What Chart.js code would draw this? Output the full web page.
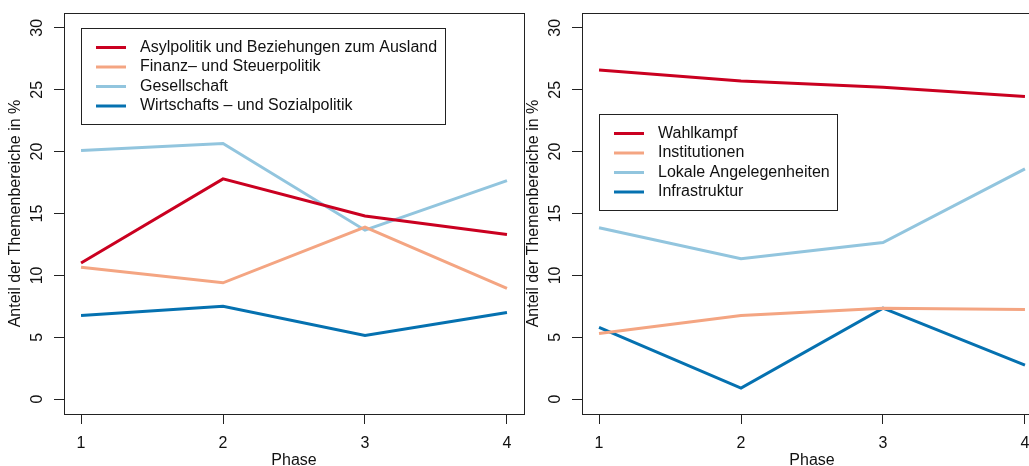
<!DOCTYPE html>
<html>
<head>
<meta charset="utf-8">
<script src="https://cdn.jsdelivr.net/npm/chart.js@4.4.0/dist/chart.umd.min.js"></script>
<style>
  html, body { margin: 0; padding: 0; background: #fff; overflow: hidden; width: 1029px; height: 466px; }
  .panel { position: absolute; top: 0; width: 530px; height: 470px; }
</style>
</head>
<body>
<div class="panel" style="left:0"><canvas id="left" width="530" height="470"></canvas></div>
<div class="panel" style="left:518px"><canvas id="right" width="530" height="470"></canvas></div>
<script>
// Daten
const phases = [1, 2, 3, 4];
const yTicks = [0, 5, 10, 15, 20, 25, 30];

const leftLabels = [
  'Asylpolitik und Beziehungen zum Ausland',
  'Finanz\u2013 und Steuerpolitik',
  'Gesellschaft',
  'Wirtschafts \u2013 und Sozialpolitik'
];
const asyl = [11.0, 17.8, 14.8, 13.3];
const finanz = [10.65, 9.4, 13.9, 8.95];
const gesellschaft = [20.1, 20.65, 13.65, 17.65];
const wirtschaft = [6.75, 7.5, 5.15, 7.0];

const rightLabels = ['Wahlkampf', 'Institutionen', 'Lokale Angelegenheiten', 'Infrastruktur'];
const wahlkampf = [26.6, 25.7, 25.2, 24.45];
const institutionen = [5.3, 6.75, 7.35, 7.25];
const lokale = [13.85, 11.35, 12.65, 18.6];
const infrastruktur = [5.8, 0.9, 7.35, 2.75];

const colors = ['#ca0020', '#f4a582', '#92c5de', '#0571b0'];
const FONT = '"Liberation Sans", Arial, Helvetica, sans-serif';
const FS = 16;

// Rahmen um den Plotbereich
const frame = {
  id: 'frame',
  afterDraw(chart) {
    const { ctx, chartArea: a } = chart;
    ctx.save();
    ctx.strokeStyle = '#222';
    ctx.lineWidth = 1;
    ctx.strokeRect(Math.round(a.left) + 0.5, Math.round(a.top) + 0.5,
      Math.round(a.right - a.left), Math.round(a.bottom - a.top));
    ctx.restore();
  }
};

// Legende mit Kasten wie in R
const boxLegend = {
  id: 'boxLegend',
  afterDraw(chart, args, opts) {
    const { ctx, chartArea } = chart;
    const items = chart.data.datasets;
    ctx.save();
    ctx.font = FS + 'px ' + FONT;
    const textW = Math.max(...items.map(d => ctx.measureText(d.label).width));
    const x0 = Math.round(chartArea.left + opts.x) + 0.5;
    const y0 = Math.round(chartArea.top + opts.y) + 0.5;
    const w = Math.round(58.5 + textW + 8);
    const h = 96;
    ctx.strokeStyle = '#222';
    ctx.lineWidth = 1;
    ctx.strokeRect(x0, y0, w, h);
    items.forEach((d, i) => {
      const y = y0 + 19 + i * 19.5;
      ctx.strokeStyle = d.borderColor;
      ctx.lineWidth = 3;
      ctx.beginPath();
      ctx.moveTo(x0 + 14.5, y);
      ctx.lineTo(x0 + 44.5, y);
      ctx.stroke();
      ctx.fillStyle = '#111';
      ctx.textBaseline = 'middle';
      ctx.textAlign = 'left';
      ctx.fillText(d.label, x0 + 58.5, y);
    });
    ctx.restore();
  }
};

function makeChart(id, labels, series, legendPos) {
  const datasets = series.map((vals, i) => ({
    label: labels[i],
    data: phases.map((p, j) => ({ x: p, y: vals[j] })),
    borderColor: colors[i],
    borderWidth: 3,
    pointRadius: 0,
    tension: 0,
    fill: false
  }));
  return new Chart(document.getElementById(id), {
    type: 'line',
    data: { datasets },
    plugins: [frame, boxLegend],
    options: {
      responsive: false,
      devicePixelRatio: 1,
      animation: false,
      layout: { padding: { top: 13, right: 6, left: 0, bottom: 0 } },
      plugins: {
        legend: { display: false },
        tooltip: { enabled: false },
        boxLegend: legendPos
      },
      scales: {
        x: {
          type: 'linear',
          min: 0.88,
          max: 4.12,
          afterBuildTicks: s => { s.ticks = phases.map(v => ({ value: v })); },
          afterFit: s => { s.height = 56; s.paddingLeft = 0; s.paddingRight = 0; },
          grid: { drawOnChartArea: false, drawTicks: true, tickLength: 10, color: '#222' },
          border: { display: false },
          ticks: { color: '#111', font: { family: FONT, size: FS }, padding: 10, maxRotation: 0 },
          title: { display: true, text: 'Phase', color: '#111', font: { family: FONT, size: FS }, padding: { top: 0, bottom: 0 } }
        },
        y: {
          type: 'linear',
          min: -1.2,
          max: 31.2,
          afterBuildTicks: s => { s.ticks = yTicks.map(v => ({ value: v })); },
          afterFit: s => { s.width = 64; s.paddingTop = 0; s.paddingBottom = 0; },
          grid: { drawOnChartArea: false, drawTicks: true, tickLength: 10, color: '#222' },
          border: { display: false },
          ticks: { color: '#111', font: { family: FONT, size: FS }, padding: 8, minRotation: 90, maxRotation: 90, crossAlign: 'center' },
          title: { display: true, text: 'Anteil der Themenbereiche in %', color: '#111', font: { family: FONT, size: FS }, padding: { top: 6, bottom: 0 } }
        }
      }
    }
  });
}

makeChart('left', leftLabels, [asyl, finanz, gesellschaft, wirtschaft], { x: 17, y: 15 });
makeChart('right', rightLabels, [wahlkampf, institutionen, lokale, infrastruktur], { x: 17, y: 101 });
</script>
</body>
</html>
